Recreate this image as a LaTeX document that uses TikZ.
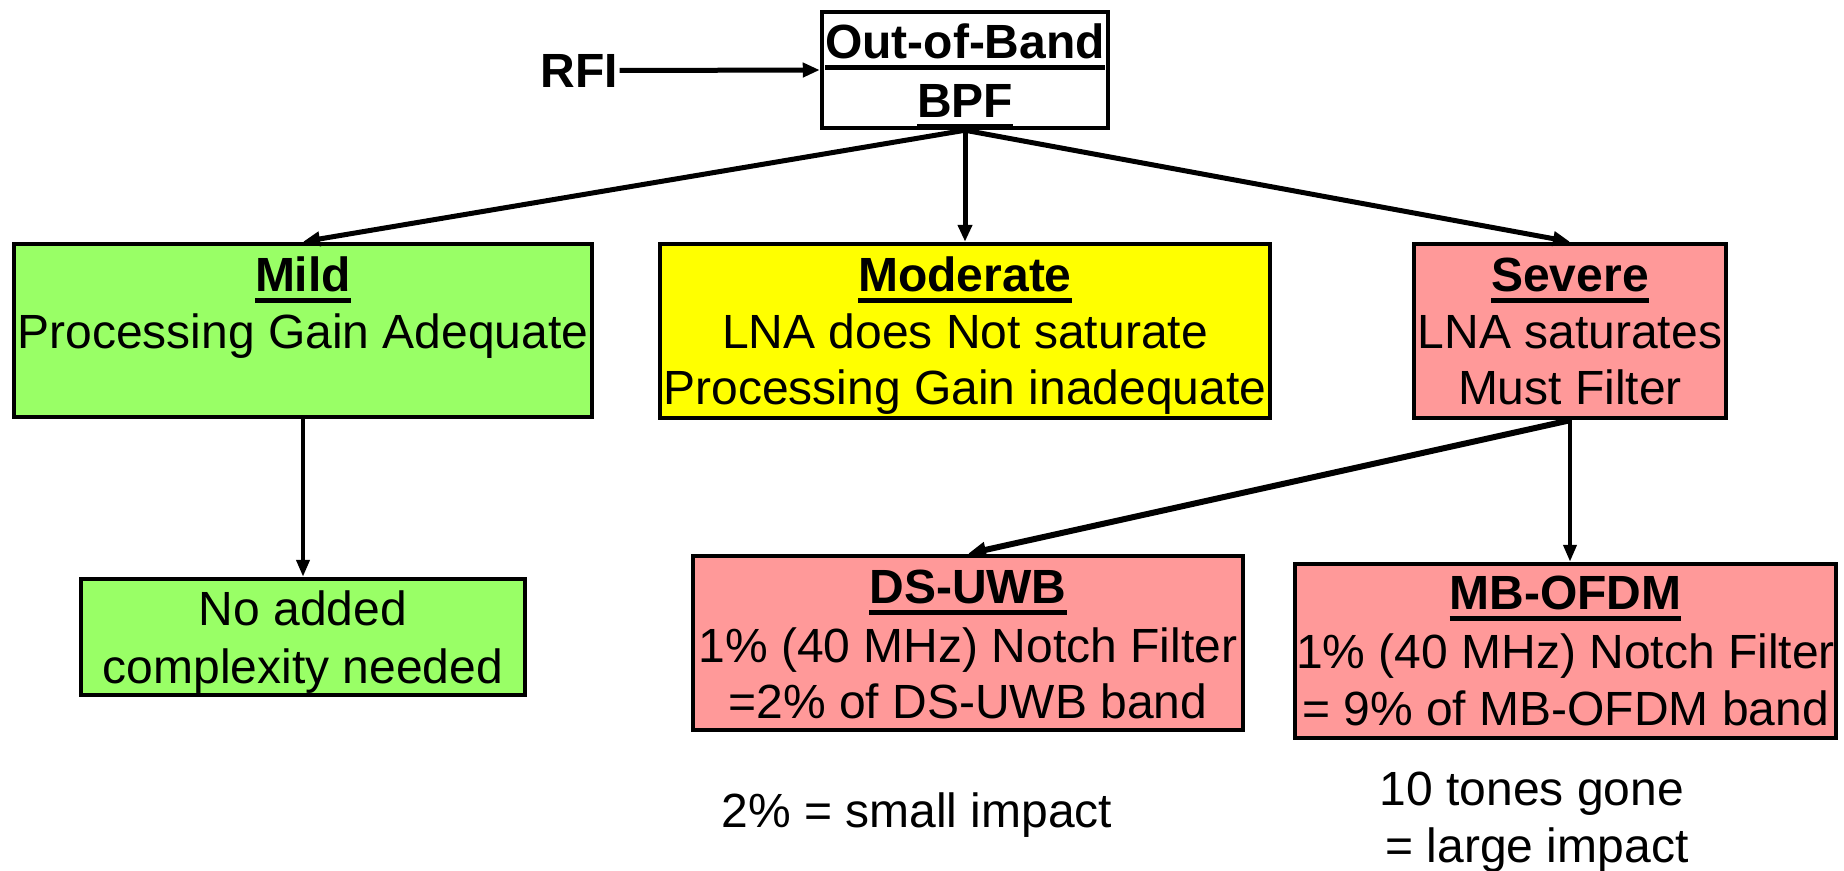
\documentclass[tikz,border=0pt]{standalone}
\usepackage{fontspec}
\setmainfont{Liberation Sans}
\usetikzlibrary{arrows.meta}
\definecolor{mildgreen}{HTML}{99FF66}
\definecolor{modyellow}{HTML}{FFFF00}
\definecolor{sevpink}{HTML}{FF9999}
\newsavebox\ulbox
\newcommand\ulbf[1]{\sbox\ulbox{\bfseries #1}\rlap{\rule[-11.5pt]{\wd\ulbox}{4.5pt}}\usebox\ulbox}
\begin{document}
\begin{tikzpicture}[x=1pt,y=-1pt,
  font=\fontsize{48pt}{57pt}\selectfont,
  box/.style={draw=black, line width=4.5pt, inner sep=0pt},
  txt/.style={anchor=base, inner sep=0pt},
  arr/.style={line width=5pt, -{Triangle[length=17pt,width=14pt]}},
  arrthin/.style={line width=4pt, -{Triangle[length=17pt,width=13pt]}},
  arrthick/.style={line width=6pt, -{Triangle[length=18pt,width=15pt]}}]
\useasboundingbox (0,0) rectangle (1844,870);

% boxes
\node[box, fill=white, minimum width=286pt, minimum height=116pt] (bpf) at (965,70) {};
\node[box, fill=mildgreen, minimum width=578pt, minimum height=173pt] (mild) at (303,330.5) {};
\node[box, fill=modyellow, minimum width=610pt, minimum height=174pt] (mod) at (965,331) {};
\node[box, fill=sevpink, minimum width=312pt, minimum height=174pt] (sev) at (1570,331) {};
\node[box, fill=mildgreen, minimum width=444pt, minimum height=116pt] (noadd) at (303,637) {};
\node[box, fill=sevpink, minimum width=550pt, minimum height=174pt] (ds) at (968,643) {};
\node[box, fill=sevpink, minimum width=541pt, minimum height=174pt] (mb) at (1565.5,651) {};

% texts
\node[txt, outer sep=2pt] (rfi) at (579,87) {\bfseries RFI};
\node[txt] (bpf1) at (965,58) {\ulbf{Out-of-Band}};
\node[txt] (bpf2) at (965,117) {\ulbf{BPF}};

\node[txt] (mild1) at (303,291) {\ulbf{Mild}};
\node[txt] (mild2) at (303,348) {Processing Gain Adequate};

\node[txt] (mod1) at (965,291) {\ulbf{Moderate}};
\node[txt] (mod2) at (965,348) {LNA does Not saturate};
\node[txt] (mod3) at (965,404) {Processing Gain inadequate};

\node[txt] (sev1) at (1570,291) {\ulbf{Severe}};
\node[txt] (sev2) at (1570,348) {LNA saturates};
\node[txt] (sev3) at (1570,404) {Must Filter};

\node[txt] (noadd1) at (303,625) {No added};
\node[txt] (noadd2) at (303,683) {complexity needed};

\node[txt] (ds1) at (968,603) {\ulbf{DS-UWB}};
\node[txt] (ds2) at (968,662) {1\% (40 MHz) Notch Filter};
\node[txt] (ds3) at (968,718) {=2\% of DS-UWB band};

\node[txt] (mb1) at (1565.5,609) {\ulbf{MB-OFDM}};
\node[txt] (mb2) at (1565.5,668) {1\% (40 MHz) Notch Filter};
\node[txt] (mb3) at (1565.5,725) {= 9\% of MB-OFDM band};

\node[txt] (small) at (917,827) {2\% = small impact};
\node[txt] (tones) at (1532,805) {10 tones gone};
\node[txt] (large) at (1537,862) {= large impact};

% connectors
\draw[arr] (rfi.east) -- (bpf.west);
\draw[arr] (bpf.south) -- (mild.north);
\draw[arr] (bpf.south) -- (mod.north);
\draw[arr] (bpf.south) -- (sev.north);
\draw[arrthin] (mild.south) -- (noadd.north);
\draw[arrthick] (sev.south) -- (ds.north);
\draw[arrthin] (sev.south) -- (sev.south |- mb.north);
\end{tikzpicture}
\end{document}
